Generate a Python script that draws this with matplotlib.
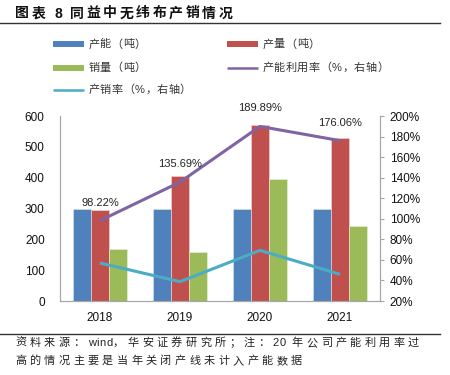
# 同益中无纬布产销情况
import numpy as np
import matplotlib.pyplot as plt
from matplotlib.lines import Line2D

plt.rcParams['font.family'] = ['Liberation Sans', 'Noto Sans CJK SC']

years = ['2018', '2019', '2020', '2021']
capacity = [300, 300, 300, 300]          # 产能（吨）
output = [295, 407, 570, 528]            # 产量（吨）
sales = [168, 158, 395, 243]             # 销量（吨）
utilization = [98.22, 135.69, 189.89, 176.06]   # 产能利用率 %
sales_rate = [57.0, 38.8, 69.3, 46.0]            # 产销率 %

BLUE = '#4F81BD'
RED = '#C0504D'
GREEN = '#9BBB59'
PURPLE = '#8064A2'
CYAN = '#4BACC6'
GRID = '#A6A6A6'

fig = plt.figure(figsize=(4.5, 3.75), dpi=100)
W, H = 450, 375


def spaced_text(x, y, s, size, gap, **kw):
    # matplotlib has no letter spacing, so place the characters one by one (pixel coords)
    r = fig.canvas.get_renderer()
    px = size * fig.dpi / 72
    for ch in s:
        if ch == ' ':
            x += px * 0.5
            continue
        t = fig.text(x / W, 1 - y / H, ch, fontsize=size, va='center', ha='left', **kw)
        if ord(ch) > 0x2000:
            x += px + gap
        else:
            x += t.get_window_extent(r).width + 0.6


ax = fig.add_axes([0.1333, 0.1973, 0.7111, 0.4933])
ax2 = ax.twinx()

x = np.arange(len(years))
w = 0.235
off = 0.225
ax.bar(x - off, capacity, w, color=BLUE, edgecolor='#DCE6F2', linewidth=0.4, zorder=2)
ax.bar(x, output, w, color=RED, edgecolor='#F2DCDB', linewidth=0.4, zorder=2)
ax.bar(x + off, sales, w, color=GREEN, edgecolor='#EBF1DE', linewidth=0.4, zorder=2)

ax2.plot(x, utilization, color=PURPLE, lw=2.2, solid_capstyle='butt')
ax2.plot(x, sales_rate, color=CYAN, lw=2.2, solid_capstyle='butt')
for xi, v in zip(x, utilization):
    ax2.annotate(f'{v:.2f}%', (xi, v), xytext=(0, 13), textcoords='offset points',
                 ha='center', va='center', fontsize=8, color='#222222',
                 annotation_clip=False)

ax.set_xlim(-0.5, 3.5)
ax.set_ylim(0, 600)
ax.set_yticks(range(0, 601, 100))
ax2.set_ylim(20, 200)
ax2.set_yticks(range(20, 201, 20))
ax2.set_yticklabels([f'{t}%' for t in range(20, 201, 20)])
ax.set_xticks(x)
ax.set_xticklabels(years)

for a in (ax, ax2):
    a.spines['top'].set_visible(False)
    for s in ('left', 'right', 'bottom'):
        a.spines[s].set_color(GRID)
        a.spines[s].set_linewidth(0.8)
ax.tick_params(axis='y', length=0, pad=11, labelsize=8.5, colors='#111111')
ax.tick_params(axis='x', length=0, pad=8, labelsize=8.5, colors='#111111')
ax2.tick_params(axis='y', length=3, width=0.8, color=GRID, pad=4, labelsize=8.5,
                labelcolor='#111111')

# legend, drawn by hand to keep the wide character spacing
legend = [
    ('产能（吨）', BLUE, 4.3, 52.7, 44.3),
    ('产量（吨）', RED, 4.3, 226.7, 44.3),
    ('销量（吨）', GREEN, 4.3, 52.7, 67.7),
    ('产能利用率（%，右轴）', PURPLE, 1.8, 226.7, 67.7),
    ('产销率（%，右轴）', CYAN, 1.8, 52.7, 90),
]
for label, color, lw, lx, ly in legend:
    fig.add_artist(Line2D([lx / W, (lx + 31.5) / W], [1 - ly / H, 1 - ly / H],
                          color=color, lw=lw, solid_capstyle='butt'))
    spaced_text(lx + 35.5, ly, label, 8, 0.5, color='#333333')

# title and rules
spaced_text(15, 13.5, '图表 8 同益中无纬布产销情况', 10, 2.6, fontweight='bold',
            color='#111111')
fig.add_artist(Line2D([0, 0.978], [1 - 23.3 / H, 1 - 23.3 / H], color='#333333', lw=1))
fig.add_artist(Line2D([0, 0.978], [1 - 333.5 / H, 1 - 333.5 / H], color='#333333', lw=1))

spaced_text(15, 342.7, '资料来源：wind，华安证券研究所；注：20 年公司产能利用率过',
            8, 3.4, color='#222222')
spaced_text(15, 360.7, '高的情况主要是当年关闭产线未计入产能数据', 8, 3.4, color='#222222')

fig.savefig('out.png', dpi=100)
